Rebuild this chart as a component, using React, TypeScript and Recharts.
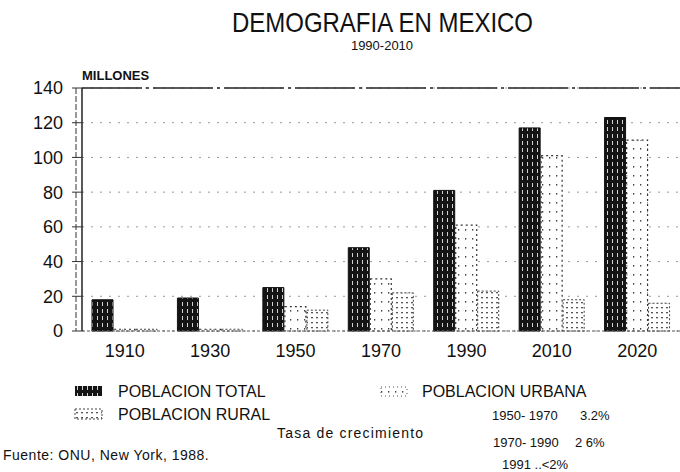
import React from 'react';
import { BarChart, Bar, XAxis, YAxis, CartesianGrid, ReferenceLine } from 'recharts';

const categories = ['1910', '1930', '1950', '1970', '1990', '2010', '2020'];
const total = [18, 19, 25, 48, 81, 117, 123];
const urbana = [1, 1, 14, 30, 61, 101, 110];
const rural = [1, 1, 12, 22, 23, 18, 16];
const yTicks = [0, 20, 40, 60, 80, 100, 120, 140];

const data = categories.map((c, i) => ({ cat: c, total: total[i], urbana: urbana[i], rural: rural[i] }));

const font = '"Liberation Sans", Arial, sans-serif';

export default function App() {
  return (
    <div style={{ position: 'absolute', left: 0, top: 0, width: 680, height: 472, background: '#fff', fontFamily: font }}>
      <svg width={0} height={0} style={{ position: 'absolute' }}>
        <defs>
          <pattern id="pTotal" width="5" height="7" patternUnits="userSpaceOnUse">
            <rect width="5" height="7" fill="#141414" />
            <line x1="2.5" y1="1" x2="2.5" y2="5" stroke="#e8e8e8" strokeWidth="0.9" />
          </pattern>
          <pattern id="pUrb" width="7" height="9" patternUnits="userSpaceOnUse">
            <rect width="7" height="9" fill="#fff" />
            <rect x="3" y="4" width="1.3" height="1.6" fill="#444" />
          </pattern>
          <pattern id="pRur" width="5" height="5" patternUnits="userSpaceOnUse">
            <rect width="5" height="5" fill="#fff" />
            <rect x="1" y="2" width="2" height="1.3" fill="#555" />
          </pattern>
        </defs>
      </svg>
      <BarChart
        width={680}
        height={472}
        data={data}
        margin={{ top: 88, right: 0, bottom: 111, left: 0 }}
        barSize={21}
        barGap={1}
      >
        <CartesianGrid vertical={false} stroke="#999" strokeDasharray="2 7" />
        <ReferenceLine y={140} stroke="#222" strokeWidth={1.5} strokeDasharray="60 4 3 4" />
        <XAxis
          dataKey="cat"
          tickLine={false}
          tickSize={0}
          tickMargin={13}
          axisLine={{ stroke: '#555', strokeDasharray: '3 2' }}
          tick={{ fontSize: 18, fill: '#111', fontFamily: font }}
          interval={0}
        />
        <YAxis
          width={82}
          domain={[0, 140]}
          ticks={yTicks}
          tickSize={10}
          tickMargin={9}
          axisLine={{ stroke: '#222', strokeWidth: 1.5 }}
          tickLine={{ stroke: '#333' }}
          tick={{ fontSize: 18, fill: '#111', fontFamily: font }}
        />
        <Bar dataKey="total" fill="url(#pTotal)" stroke="#111" strokeWidth={1} isAnimationActive={false} />
        <Bar dataKey="urbana" fill="url(#pUrb)" stroke="#333" strokeWidth={1.2} strokeDasharray="2 3" isAnimationActive={false} />
        <Bar dataKey="rural" fill="url(#pRur)" stroke="#444" strokeWidth={1} strokeDasharray="2 2" isAnimationActive={false} />
      </BarChart>
      <svg width={680} height={472} style={{ position: 'absolute', left: 0, top: 0, pointerEvents: 'none' }} fontFamily={font}>
        <line x1={76} y1={88} x2={76} y2={331} stroke="#333" strokeWidth={1} strokeDasharray="6 2" />
        <text x={232} y={32} fontSize={28} textLength={301} lengthAdjust="spacingAndGlyphs" fill="#111">DEMOGRAFIA EN MEXICO</text>
        <text x={382} y={50} fontSize={13} textAnchor="middle" fill="#111">1990-2010</text>
        <text x={82} y={80} fontSize={13} fontWeight={700} fill="#111">MILLONES</text>

        <rect x={75} y={386} width={27} height={10} fill="url(#pTotal)" />
        <text x={118} y={397} fontSize={16} fill="#111">POBLACION TOTAL</text>
        <rect x={75} y={409} width={27} height={10} fill="url(#pRur)" stroke="#444" strokeDasharray="2 2" />
        <text x={118} y={420} fontSize={16} fill="#111">POBLACION RURAL</text>
        <rect x={381} y={387} width={26} height={9} fill="url(#pUrb)" stroke="#555" strokeDasharray="1 3" />
        <text x={422} y={397} fontSize={16} fill="#111">POBLACION URBANA</text>

        <text x={277} y={438} fontSize={14} letterSpacing={1.2} fill="#111">Tasa de crecimiento</text>
        <text x={492} y={420} fontSize={13} fill="#111">1950- 1970</text>
        <text x={580} y={420} fontSize={13} fill="#111">3.2%</text>
        <text x={493} y={447} fontSize={13} fill="#111">1970- 1990</text>
        <text x={575} y={447} fontSize={13} fill="#111">2 6%</text>
        <text x={502} y={469} fontSize={13} fill="#111">1991  ..&lt;2%</text>
        <text x={3} y={460} fontSize={14} letterSpacing={0.5} fill="#111">Fuente: ONU, New York, 1988.</text>
      </svg>
    </div>
  );
}
